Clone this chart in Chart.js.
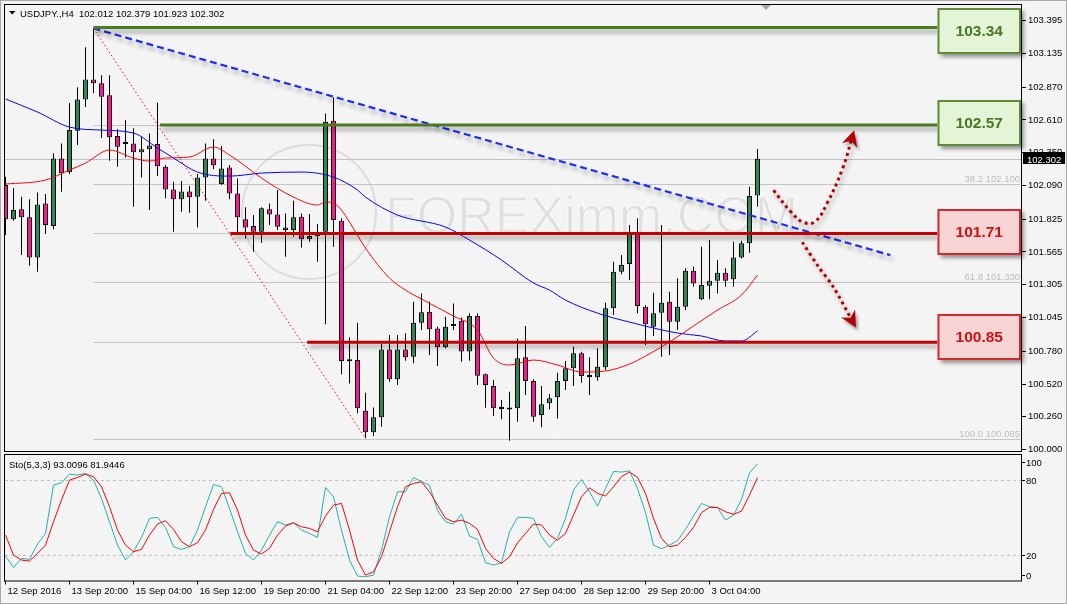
<!DOCTYPE html>
<html lang="en">
<head>
<meta charset="UTF-8">
<meta name="viewport" content="width=device-width, initial-scale=1.0">
<title>USDJPY.,H4</title>
<script src="https://cdn.jsdelivr.net/npm/chart.js"></script>
<style>
  html, body { margin: 0; padding: 0; background: #f4f4f4; }
  #wrap { position: relative; width: 1067px; height: 604px; overflow: hidden; background: #f4f4f4; }
  #wrap canvas { position: absolute; left: 0; }
  #priceChart { top: 0; }
  #stoChart { top: 453px; }
  #edge { position: absolute; left: 0; top: 0; width: 1065px; height: 602px; border: 1px solid #a9a9a9; pointer-events: none; }
</style>
</head>
<body>
<div id="wrap">
  <canvas id="priceChart" width="1067" height="453"></canvas>
  <canvas id="stoChart" width="1067" height="151"></canvas>
  <div id="edge"></div>
</div>
<script>
// values, one entry per H4 bar
const BAR_OPEN = [102.094,101.823,101.902,101.839,101.522,101.949,101.770,102.305,102.195,102.524,
  102.772,102.930,102.899,102.804,102.482,102.419,102.424,102.353,102.377,102.419,
  102.239,102.060,101.981,102.044,102.002,102.155,102.305,102.102,102.234,102.028,
  101.823,101.770,101.725,101.902,101.862,101.759,101.738,101.843,101.665,101.691,
  101.725,102.603,101.812,100.704,100.710,100.309,100.138,100.256,100.794,100.557,
  100.794,100.736,101.005,101.092,100.960,100.810,100.979,101.021,100.778,101.058,
  100.597,100.504,100.324,100.320,100.328,100.731,100.544,100.275,100.367,100.415,
  100.544,100.644,100.763,100.578,100.573,100.652,101.119,101.408,101.469,101.725,
  101.131,100.973,101.084,101.171,101.013,101.131,101.416,101.190,101.297,101.337,
  101.400,101.348,101.522,101.633,102.012];
const BAR_HIGH = [102.160,102.070,102.002,101.981,102.036,102.023,102.345,102.424,102.743,102.869,
  103.184,103.334,102.964,102.964,102.535,102.608,102.543,102.476,102.503,102.745,
  102.252,102.120,102.126,102.086,102.181,102.424,102.456,102.403,102.252,102.147,
  101.918,101.857,101.918,101.949,102.055,101.870,101.970,101.870,101.865,101.786,
  102.661,102.788,101.831,100.889,101.005,100.451,100.335,100.842,100.907,100.907,
  100.921,101.171,101.237,101.171,100.973,101.052,101.158,101.047,101.079,101.079,
  100.604,100.551,100.393,100.459,100.881,100.979,100.557,100.504,100.441,100.609,
  100.702,100.815,100.775,100.731,100.802,101.163,101.487,101.540,101.778,101.831,
  101.145,101.242,101.778,101.250,101.356,101.435,101.448,101.606,101.659,101.501,
  101.435,101.646,101.653,102.081,102.379];
const BAR_LOW = [101.699,101.812,101.540,101.456,101.408,101.706,101.744,102.041,102.181,102.411,
  102.711,102.820,102.466,102.286,102.239,102.313,101.922,102.155,101.896,102.165,
  101.989,101.725,101.883,101.875,101.759,101.970,102.221,102.094,101.981,101.717,
  101.672,101.566,101.638,101.778,101.738,101.527,101.685,101.601,101.646,101.487,
  100.992,101.606,100.597,100.525,100.288,100.090,100.108,100.182,100.538,100.512,
  100.704,100.684,100.947,100.749,100.662,100.802,100.947,100.696,100.704,100.512,
  100.332,100.267,100.241,100.071,100.222,100.433,100.222,100.177,100.320,100.248,
  100.472,100.504,100.530,100.433,100.546,100.631,101.066,101.388,101.343,101.079,
  100.828,100.900,100.736,100.749,100.947,101.105,101.290,101.184,101.190,101.237,
  101.290,101.290,101.514,101.559,101.923];
const BAR_CLOSE = [101.823,101.896,101.839,101.522,101.941,101.778,102.305,102.187,102.529,102.772,
  102.930,102.899,102.793,102.472,102.397,102.429,102.353,102.377,102.408,102.244,
  102.060,101.981,102.044,101.997,102.155,102.305,102.250,102.226,102.028,101.839,
  101.759,101.725,101.910,101.862,101.764,101.738,101.839,101.665,101.691,101.712,
  102.595,101.817,100.702,100.700,100.328,100.138,100.256,100.794,100.557,100.794,
  100.731,101.005,101.087,100.953,100.810,100.973,100.994,100.778,101.058,100.585,
  100.512,100.328,100.322,100.318,100.723,100.544,100.261,100.359,100.407,100.544,
  100.644,100.763,100.583,100.576,100.657,101.119,101.408,101.461,101.712,101.137,
  100.992,101.079,101.163,101.013,101.131,101.416,101.316,101.303,101.337,101.400,
  101.337,101.522,101.633,102.007,102.302];

// moving averages, read at a sample of bars
const MA_RED_BARS = [0,5,8,10,13,16,18,20,23,26,28,32,36,39,40,41,42,43,45,48,50,52,56,59,61,63,66,69,72,75,78,80,83,86,89,92,94];
const MA_RED = [102.102,102.134,102.213,102.268,102.371,102.308,102.284,102.308,102.316,102.395,102.332,102.150,101.999,101.936,101.960,101.952,101.896,101.801,101.596,101.358,101.263,101.192,101.058,100.947,100.725,100.670,100.710,100.670,100.615,100.623,100.678,100.741,100.852,100.979,101.105,101.224,101.382];
const MA_BLUE_BARS = [0,4,8,12,16,19,21,24,28,32,37,41,44,45,49,55,58,62,66,68,70,74,78,84,87,90,92,94];
const MA_BLUE = [102.775,102.672,102.553,102.529,102.506,102.387,102.308,102.197,102.165,102.189,102.197,102.157,102.055,101.999,101.857,101.762,101.659,101.501,101.319,101.263,101.184,101.081,101.010,100.923,100.900,100.860,100.860,100.939];

// stochastic (5,3,3)
const STO_K = [19.5,10.4,17.6,16.8,29,37.5,76,77.9,84.8,84,85.3,80,65.4,46.8,28.2,16.3,22.9,34.3,49.5,50.3,
  42.3,26.9,24.8,26.9,40.2,58.8,76.5,74.7,57.4,38.8,21.6,16.3,24.2,36.2,46.8,44.2,46,40.2,37.5,34.3,
  74.2,66.7,40.2,16.3,3.5,3,4.3,24.2,50.8,70.7,70.7,82.1,78.7,76,55.6,46.8,45,52.9,35.4,32.7,
  14.2,12.3,14.2,38.8,50.3,50.3,49.5,34.9,26.4,33.5,49.5,72.1,80.5,70.7,59.3,73.4,86.9,86.4,87.4,73.4,
  54,28.2,25.3,28.2,31.7,40.7,51.3,61.4,58.8,58.2,48.1,52.1,64.6,85.8,93.0096];
const STO_D = [36.2,20.3,16.3,15.5,21.6,28.2,46.8,64.1,80,82.1,84.8,82.7,74.7,58.8,40.2,28.2,22.9,24.8,36.2,45,
  47.6,40.7,30.9,26.9,30.1,40.2,56.6,69.4,69.9,56.1,36.2,24.2,21.1,25.6,36.2,43.4,46,42.8,41.5,38.8,
  51.3,60.1,61.4,40.2,16.3,4.3,6.9,18.9,38.8,58.8,74.7,77.3,78.7,70.7,60.1,49.5,46.8,48.1,45.5,40.7,
  25.6,17.6,13.6,18.9,30,37.5,45,44.2,36.2,32.2,37.5,52.1,66.7,73.9,69.4,67.3,74.7,82.7,86.4,82.1,
  69.4,49.5,33.5,26.9,28.2,34.3,42.3,54,58.2,58.2,54.8,52.7,55.3,68,81.9446];

// axis labels
const Y_TICKS = [103.395,103.135,102.870,102.610,102.350,102.090,101.825,101.565,101.305,101.045,100.780,100.520,100.260,100.000];
const X_LABELS = ['12 Sep 2016','13 Sep 20:00','15 Sep 04:00','16 Sep 12:00','19 Sep 20:00','21 Sep 04:00',
  '22 Sep 12:00','23 Sep 20:00','27 Sep 04:00','28 Sep 12:00','29 Sep 20:00','3 Oct 04:00'];
const BARS_PER_LABEL = 8;
const STO_AXIS = [100, 80, 20, 0];
const STO_LEVELS = [80, 20];

// drawn objects (bar index, price)
const LEVEL_PRICES = [103.34, 102.57, 101.71, 100.85];
const LEVEL_START = [11, 19.3, 28.1, 37.7];
const BOX_CENTERS = [103.314, 102.585, 101.722, 100.892];
const BOX_BAR = 116.5;
const FIB_LEVELS = ['0.0','23.6','38.2','50.0','61.8','76.4','100.0'];
const FIB_PRICES = [103.340,102.572,102.100,101.712,101.330,100.853,100.085];
const FIB_FROM = 11;
const TREND_BARS = [11, 110.6];
const TREND_PRICES = [103.334, 101.540];
const FIB_DIAG_BARS = [11, 45];
const FIB_DIAG_PRICES = [103.334, 100.090];
const ARROW_UP_BARS = [96.0, 98.2, 99.7, 101.2, 102.7, 104.7, 105.9];
const ARROW_UP_PRICES = [102.053, 101.880, 101.800, 101.805, 101.950, 102.235, 102.490];
const ARROW_DN_BARS = [99.6, 101.6, 103.5, 106.0];
const ARROW_DN_PRICES = [101.642, 101.450, 101.286, 101.002];

const FONT = '"Liberation Sans", Arial, sans-serif';
const BULL = '#2e8b57', BEAR = '#ff1493';
const X_MIN = -0.0625, X_MAX = 127.0625;
const Y_MIN = 99.982, Y_MAX = 103.519;

const last = BAR_CLOSE.length - 1;
const pts = (xs, ys) => xs.map((x, i) => ({ x: x, y: ys[i] }));
const lineSet = (data, color, width, extra) => Object.assign({
  type: 'line', data: data, borderColor: color, borderWidth: width,
  pointRadius: 0, fill: false, tension: 0
}, extra);

const datasets = [];
LEVEL_PRICES.forEach((p, k) => {
  const up = p > BAR_CLOSE[last];
  datasets.push(lineSet([{ x: LEVEL_START[k], y: p }, { x: BOX_BAR, y: p }],
    up ? '#4b7a1f' : '#c40000', 3, { order: 0, shadow: true }));
});
datasets.push(lineSet(pts(TREND_BARS, TREND_PRICES), '#1d2ff0', 2.2, { order: 1, shadow: true, borderDash: [7, 4] }));
datasets.push(lineSet(pts(ARROW_UP_BARS, ARROW_UP_PRICES), '#b30000', 3, { order: 1, shadow: true, arrow: true, tension: 0.4, borderDash: [3, 3.5] }));
datasets.push(lineSet(pts(ARROW_DN_BARS, ARROW_DN_PRICES), '#b30000', 3, { order: 1, shadow: true, arrow: true, tension: 0.3, borderDash: [3, 3.5] }));
datasets.push(lineSet(pts(FIB_DIAG_BARS, FIB_DIAG_PRICES), '#ff0000', 1, { order: 2, borderDash: [1.5, 2.5] }));
datasets.push(lineSet(pts(MA_RED_BARS, MA_RED), '#ff0000', 1, { order: 3, cubicInterpolationMode: 'monotone' }));
datasets.push(lineSet(pts(MA_BLUE_BARS, MA_BLUE), '#0000ff', 1, { order: 3, cubicInterpolationMode: 'monotone' }));
datasets.push({
  type: 'bar', order: 4, grouped: false,
  data: BAR_OPEN.map((o, i) => ({ x: i, y: [o, BAR_CLOSE[i]] })),
  backgroundColor: BAR_OPEN.map((o, i) => BAR_CLOSE[i] >= o ? BULL : BEAR),
  borderColor: '#000', borderWidth: 1, borderSkipped: false, inflateAmount: 0,
  barThickness: 5, maxBarThickness: 5, minBarLength: 2
});
datasets.push({
  type: 'bar', order: 5, grouped: false,
  data: BAR_OPEN.map((o, i) => ({ x: i, y: [BAR_LOW[i], BAR_HIGH[i]] })),
  backgroundColor: '#000', borderWidth: 0, inflateAmount: 0,
  barThickness: 1, maxBarThickness: 1
});

function text(ctx, s, x, y, color, font, align) {
  ctx.fillStyle = color;
  ctx.font = font;
  ctx.textAlign = align || 'left';
  ctx.textBaseline = 'alphabetic';
  ctx.fillText(s, x, y);
}

const mainPlugin = {
  id: 'mt4main',
  beforeDatasetDraw(chart, args) {
    const ds = chart.data.datasets[args.index];
    if (ds.shadow) {
      const c = chart.ctx;
      c.save();
      c.shadowColor = 'rgba(0,0,0,0.35)';
      c.shadowBlur = 4;
      c.shadowOffsetX = 2;
      c.shadowOffsetY = 4;
    }
  },
  afterDatasetDraw(chart, args) {
    if (chart.data.datasets[args.index].shadow) chart.ctx.restore();
  },
  beforeDatasetsDraw(chart) {
    const c = chart.ctx, a = chart.chartArea, sx = chart.scales.x, sy = chart.scales.y;
    c.save();
    // watermark
    c.strokeStyle = 'rgba(195,195,195,0.5)';
    c.lineWidth = 2;
    c.beginPath();
    c.arc(309, 212, 67, 0, Math.PI * 2);
    c.stroke();
    c.font = '52px ' + FONT;
    c.textBaseline = 'alphabetic';
    c.textAlign = 'left';
    c.fillStyle = 'rgba(140,140,140,0.2)';
    c.fillText('FOREXimm.COM', 385, 233);
    c.strokeStyle = 'rgba(255,255,255,0.7)';
    c.lineWidth = 1;
    c.strokeText('FOREXimm.COM', 385, 233);
    // fibonacci levels
    const fx = sx.getPixelForValue(FIB_FROM);
    c.strokeStyle = '#c4c4c4';
    c.lineWidth = 1;
    FIB_PRICES.forEach((p, k) => {
      const y = Math.round(sy.getPixelForValue(p)) + 0.5;
      c.beginPath();
      c.moveTo(fx, y);
      c.lineTo(a.right - 2, y);
      c.stroke();
      text(c, FIB_LEVELS[k] + ' ' + p.toFixed(3), a.right - 2, y - 3, '#bdbdbd', '9.5px ' + FONT, 'right');
    });
    // bid line
    const by = Math.round(sy.getPixelForValue(BAR_CLOSE[last])) + 0.5;
    c.strokeStyle = '#c0c0c0';
    c.beginPath();
    c.moveTo(a.left, by);
    c.lineTo(a.right, by);
    c.stroke();
    c.restore();
  },
  afterDatasetsDraw(chart) {
    const c = chart.ctx, a = chart.chartArea, sx = chart.scales.x, sy = chart.scales.y;
    c.save();
    // arrow heads
    chart.data.datasets.forEach((ds, i) => {
      if (!ds.arrow) return;
      const el = chart.getDatasetMeta(i).data;
      const tip = el[el.length - 1], prev = el[el.length - 2];
      const ang = Math.atan2(tip.y - prev.y, tip.x - prev.x);
      c.save();
      c.translate(tip.x, tip.y);
      c.rotate(ang);
      c.shadowColor = 'rgba(0,0,0,0.35)';
      c.shadowBlur = 3;
      c.shadowOffsetX = 2;
      c.shadowOffsetY = 3;
      c.fillStyle = '#b30000';
      c.beginPath();
      c.moveTo(5, 0);
      c.lineTo(-11, -8);
      c.lineTo(-6, 0);
      c.lineTo(-11, 8);
      c.closePath();
      c.fill();
      c.restore();
    });
    // level boxes
    const bx = sx.getPixelForValue(BOX_BAR);
    LEVEL_PRICES.forEach((p, k) => {
      const up = p > BAR_CLOSE[last];
      const y = sy.getPixelForValue(BOX_CENTERS[k]);
      const w = a.right - 1 - bx, h = 46, top = Math.round(y - h / 2);
      c.save();
      c.shadowColor = 'rgba(0,0,0,0.4)';
      c.shadowBlur = 4;
      c.shadowOffsetX = 3;
      c.shadowOffsetY = 3;
      c.fillStyle = up ? '#e3f4d7' : '#f9d4d4';
      c.fillRect(bx, top, w, h);
      c.restore();
      c.strokeStyle = up ? '#5d8c34' : '#d42a2a';
      c.lineWidth = 2;
      c.strokeRect(bx + 1, top + 1, w - 2, h - 2);
      c.font = 'bold 15.5px ' + FONT;
      c.fillStyle = up ? '#4a7624' : '#cc1111';
      c.textAlign = 'center';
      c.textBaseline = 'middle';
      c.fillText(p.toFixed(2), bx + w / 2, top + h / 2 + 1);
    });
    // frame
    c.strokeStyle = '#000';
    c.lineWidth = 1;
    c.strokeRect(a.left - 0.5, a.top - 0.5, a.right - a.left, a.bottom - a.top);
    // chart shift marker
    c.fillStyle = '#a6a6a6';
    c.beginPath();
    c.moveTo(761, a.top);
    c.lineTo(771, a.top);
    c.lineTo(766, a.top + 5);
    c.closePath();
    c.fill();
    // header
    c.fillStyle = '#000';
    c.beginPath();
    c.moveTo(9, 11);
    c.lineTo(15.5, 11);
    c.lineTo(12.25, 14.5);
    c.closePath();
    c.fill();
    const hdr = 'USDJPY.,H4  ' + [BAR_OPEN[last], BAR_HIGH[last], BAR_LOW[last], BAR_CLOSE[last]].map(v => v.toFixed(3)).join(' ');
    text(c, hdr, 20, 17, '#000', '9.5px ' + FONT);
    // price tag on the axis
    const py = sy.getPixelForValue(BAR_CLOSE[last]);
    c.fillStyle = '#000';
    c.fillRect(a.right + 1, Math.round(py - 6.5), 42, 12);
    text(c, BAR_CLOSE[last].toFixed(3), a.right + 5, Math.round(py) + 4, '#fff', '9.5px ' + FONT);
    c.restore();
  }
};

new Chart(document.getElementById('priceChart'), {
  type: 'bar',
  data: { datasets: datasets },
  options: {
    responsive: false,
    animation: false,
    events: [],
    layout: { padding: { left: 5, top: 5, right: 0, bottom: 1 } },
    plugins: { legend: { display: false }, tooltip: { enabled: false } },
    scales: {
      x: { type: 'linear', min: X_MIN, max: X_MAX, offset: false, display: false },
      y: {
        position: 'right', min: Y_MIN, max: Y_MAX,
        afterBuildTicks: s => { s.ticks = Y_TICKS.map(v => ({ value: v })); },
        afterFit: s => { s.width = 45; s.paddingTop = 0; s.paddingBottom = 0; },
        ticks: { autoSkip: false, padding: 2, color: '#000', font: { family: FONT, size: 9.5 }, callback: v => v.toFixed(3) },
        grid: { drawOnChartArea: false, drawTicks: true, tickLength: 4, color: '#000' },
        border: { display: false }
      }
    }
  },
  plugins: [mainPlugin]
});

const stoPlugin = {
  id: 'mt4sto',
  beforeDatasetsDraw(chart) {
    const c = chart.ctx, a = chart.chartArea, sy = chart.scales.y;
    c.save();
    c.strokeStyle = '#c0c0c0';
    c.lineWidth = 1;
    c.setLineDash([3, 3]);
    STO_LEVELS.forEach(v => {
      const y = Math.round(sy.getPixelForValue(v)) + 0.5;
      c.beginPath();
      c.moveTo(a.left, y);
      c.lineTo(a.right, y);
      c.stroke();
    });
    c.restore();
  },
  afterDatasetsDraw(chart) {
    const c = chart.ctx, a = chart.chartArea, sy = chart.scales.y;
    c.save();
    c.strokeStyle = '#000';
    c.lineWidth = 1;
    c.strokeRect(a.left - 0.5, a.top - 0.5, a.right - a.left, a.bottom - a.top + 1);
    STO_AXIS.forEach(v => {
      const y = Math.min(Math.max(sy.getPixelForValue(v), a.top + 7), a.bottom - 5.5);
      c.beginPath();
      c.moveTo(a.right, Math.round(y) + 0.5);
      c.lineTo(a.right + 3, Math.round(y) + 0.5);
      c.stroke();
      text(c, String(v), a.right + 4, y + 3.5, '#000', '9.5px ' + FONT);
    });
    const hdr = 'Sto(5,3,3) ' + STO_K[last].toFixed(4) + ' ' + STO_D[last].toFixed(4);
    text(c, hdr, 9, 15, '#000', '9.5px ' + FONT);
    c.restore();
  }
};

new Chart(document.getElementById('stoChart'), {
  type: 'line',
  data: {
    datasets: [
      lineSet(STO_D.map((v, i) => ({ x: i, y: v })), '#ff0000', 1, { order: 0 }),
      lineSet(STO_K.map((v, i) => ({ x: i, y: v })), '#20b2aa', 1, { order: 1 })
    ]
  },
  options: {
    responsive: false,
    animation: false,
    events: [],
    layout: { padding: { left: 5, top: 2, right: 0, bottom: 0 } },
    plugins: { legend: { display: false }, tooltip: { enabled: false } },
    scales: {
      x: {
        type: 'linear', min: X_MIN, max: X_MAX, offset: false,
        afterBuildTicks: s => { s.ticks = X_LABELS.map((l, k) => ({ value: k * BARS_PER_LABEL })); },
        afterFit: s => { s.height = 23.5; s.paddingLeft = 0; s.paddingRight = 0; },
        ticks: {
          autoSkip: false, maxRotation: 0, minRotation: 0, align: 'start', padding: 1, labelOffset: 2,
          color: '#000', font: { family: FONT, size: 9.5 },
          callback: v => X_LABELS[Math.round(v / BARS_PER_LABEL)]
        },
        grid: { drawOnChartArea: false, drawTicks: true, tickLength: 4, color: '#000' },
        border: { display: false }
      },
      y: {
        position: 'right', min: 0, max: 100,
        afterFit: s => { s.width = 45; s.paddingTop = 0; s.paddingBottom = 0; },
        ticks: { display: false },
        grid: { display: false },
        border: { display: false }
      }
    }
  },
  plugins: [stoPlugin]
});
</script>
</body>
</html>
